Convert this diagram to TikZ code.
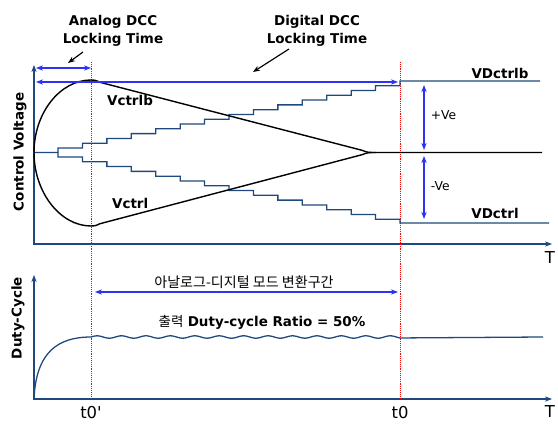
\documentclass[tikz,border=0pt]{standalone}
\usepackage{fontspec}
\setmainfont{DejaVu Sans}
\newfontfamily\krfont{Noto Sans CJK KR}
\usetikzlibrary{arrows.meta}
\definecolor{axisblue}{RGB}{31,73,125}
\definecolor{arrblue}{RGB}{45,50,245}

\tikzset{
  axis/.style={axisblue,line width=1.4pt},
  stair/.style={axisblue,line width=1.1pt},
  vline/.style={black,line width=1.2pt},
  marker/.style={red,densely dotted,line width=0.6pt},
  tarr/.style={arrblue,line width=1.1pt},
  lbl/.style={font=\bfseries\fontsize{11.5pt}{15.4pt}\selectfont},
  small/.style={text=black,font=\fontsize{10.5pt}{12pt}\selectfont},
  tick/.style={font=\fontsize{14pt}{16pt}\selectfont},
}

\begin{document}
\begin{tikzpicture}[>={Stealth[length=6pt,width=4.5pt]},x=0.03cm,y=-0.03cm]
  \useasboundingbox (0,0) rectangle (558,424);

  % axes
  \coordinate (v1) at (34,65);  \coordinate (h1) at (552,244);
  \coordinate (v2) at (34,275); \coordinate (h2) at (552,399);
  \draw[axis,<->] (v1) |- (h1);
  \draw[axis,<->] (v2) |- (h2);
  \node[tick] (T1) at (550,258) {T};
  \node[tick] (T2) at (550,412) {T};
  \node[lbl,rotate=90] (yl1) at (20,152) {Control Voltage};
  \node[lbl,rotate=90] (yl2) at (18,318) {Duty-Cycle};

  % time markers
  \coordinate (m1) at (91,62);  \coordinate (m1b) at (91,399);
  \coordinate (m2) at (400,62); \coordinate (m2b) at (400,399);
  \draw[marker] (m1) -- (m1b);
  \draw[marker] (m2) -- (m2b);
  \node[tick] (t0a) at (91,413) {t0\textquotesingle};
  \node[tick] (t0b) at (400,413) {t0};

  % digital staircases
  \draw[stair] (34,152.5) -- (58,152.5)
    \foreach \k in {0,...,13}{ -- ({58+24.43*\k},{148-4.79*\k}) -- ({58+24.43*(\k+1)},{148-4.79*\k}) }
    -- (400,81) -- (540,81);
  \draw[stair] (58,152.5)
    \foreach \k in {0,...,13}{ -- ({58+24.43*\k},{157+4.79*\k}) -- ({58+24.43*(\k+1)},{157+4.79*\k}) }
    -- (400,223) -- (549,223);
  \node[lbl] (vdb) at (500,73) {VDctrlb};
  \node[lbl] (vd) at (495,213) {VDctrl};

  % analog curves
  \draw[vline] (34,152.5) .. controls (34,113) and (60,80) .. (91,80)
    .. controls (95,80) .. (100,82.3) -- (362,150.3)
    .. controls (368,152.5) .. (376,152.5) -- (542,152.5);
  \draw[vline] (34,152.5) .. controls (34,192) and (60,226) .. (91,226)
    .. controls (95,226) .. (100,223.7) -- (362,154.7)
    .. controls (368,152.5) .. (376,152.5);
  \node[lbl,anchor=west] (vb) at (103,100) {Vctrlb};
  \node[lbl,anchor=west] (vc) at (108,203) {Vctrl};

  % error range
  \coordinate (pv1) at (424,85);  \coordinate (pv2) at (424,150);
  \coordinate (nv1) at (424,156); \coordinate (nv2) at (424,219);
  \draw[tarr,<->] (pv1) -- node[small,right,xshift=2pt,yshift=2pt]{+Ve} (pv2);
  \draw[tarr,<->] (nv1) -- node[small,right,xshift=2pt,yshift=1pt]{-Ve} (nv2);

  % locking times
  \coordinate (a1) at (36,68);  \coordinate (a2) at (91,68);
  \coordinate (d1) at (36,82);  \coordinate (d2) at (398,82);
  \draw[tarr,<->] (a1) -- (a2);
  \draw[tarr,<->] (d1) -- (d2);
  \node[lbl,align=center] (ana) at (113,31) {Analog DCC\\Locking Time};
  \node[lbl,align=center] (dig) at (317,31) {Digital DCC\\Locking Time};
  \coordinate (pa1) at (83,52);  \coordinate (pa2) at (68,63);
  \coordinate (pd1) at (289,49); \coordinate (pd2) at (253,72);
  \draw[->,line width=1pt] (pa1) -- (pa2);
  \draw[->,line width=1pt] (pd1) -- (pd2);

  % duty cycle
  \coordinate (c1) at (95,292); \coordinate (c2) at (398,292);
  \draw[tarr,<->] (c1) -- (c2);
  \node[font=\krfont\fontsize{12pt}{14pt}\selectfont] (mode) at (244,282) {아날로그-디지털 모드 변환구간};
  \node[font=\fontsize{11.5pt}{14pt}\selectfont] (ratio) at (262,322) {{\krfont 출력} \textbf{Duty-cycle Ratio = 50\%}};
  \draw[stair] (34,399) .. controls (36,352) and (58,337) .. (91,337)
    -- plot[domain=91:400,samples=150] (\x,{337-1.2*sin((\x-91)/24.43*360)})
    -- (543,337);
\end{tikzpicture}
\end{document}
